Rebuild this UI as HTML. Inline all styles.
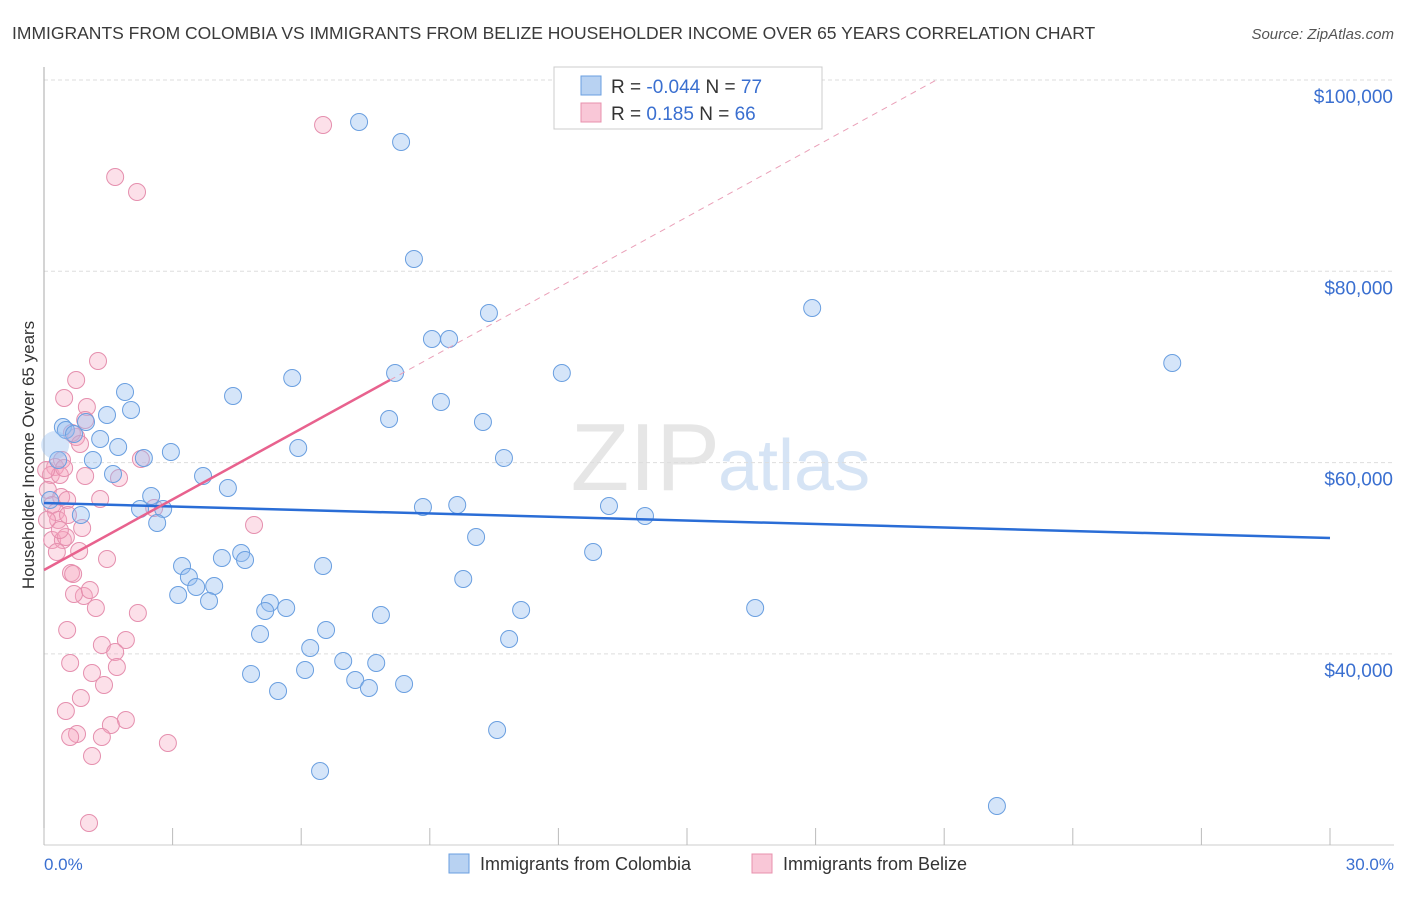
<!DOCTYPE html>
<html><head><meta charset="utf-8"><style>
body{margin:0;background:#fff;font-family:"Liberation Sans",sans-serif;}
svg text{font-family:"Liberation Sans",sans-serif;}
</style></head><body>
<svg id="chart" width="1406" height="892" xmlns="http://www.w3.org/2000/svg">
<text x="12" y="39" font-size="17.5" fill="#3a3a3a">IMMIGRANTS FROM COLOMBIA VS IMMIGRANTS FROM BELIZE HOUSEHOLDER INCOME OVER 65 YEARS CORRELATION CHART</text>
<text x="1394" y="39" font-size="15" fill="#555" text-anchor="end" font-style="italic">Source: ZipAtlas.com</text>
<text x="720" y="490" font-size="96" fill="#e6e6e6" text-anchor="end" font-family="Liberation Serif">ZIP</text>
<text x="718" y="490" font-size="72" fill="#d6e4f5">atlas</text>
<g id="grid"></g><g id="axes"></g><g id="pts"></g><g id="trend"></g>
<text transform="translate(34,455) rotate(-90)" font-size="17" fill="#333" text-anchor="middle">Householder Income Over 65 years</text>
<text x="44" y="870" font-size="17" fill="#3a6fd0">0.0%</text>
<text x="1394" y="870" font-size="17" fill="#3a6fd0" text-anchor="end">30.0%</text>
<g>
<rect x="554" y="67" width="268" height="62" fill="#fff" stroke="#ccc"/>
<rect x="581" y="76" width="20" height="19" fill="#b8d2f2" stroke="#6a9fe0"/>
<rect x="581" y="103" width="20" height="19" fill="#f9c7d7" stroke="#e890ad"/>
<text x="611" y="93" font-size="19" fill="#333">R = <tspan fill="#3a6fd0">-0.044</tspan>   N = <tspan fill="#3a6fd0">77</tspan></text>
<text x="611" y="120" font-size="19" fill="#333">R =    <tspan fill="#3a6fd0">0.185</tspan>   N = <tspan fill="#3a6fd0">66</tspan></text>
</g>
<g>
<rect x="449" y="854" width="20" height="19" fill="#b8d2f2" stroke="#6a9fe0"/>
<text x="480" y="870" font-size="18" fill="#333">Immigrants from Colombia</text>
<rect x="752" y="854" width="20" height="19" fill="#f9c7d7" stroke="#e890ad"/>
<text x="783" y="870" font-size="18" fill="#333">Immigrants from Belize</text>
</g>
</svg>
<script>
const yTicks=[100000,80000,60000,40000];
const yTickLabels=["$100,000","$80,000","$60,000","$40,000"];
const xTicks=[0,3,6,9,12,15,18,21,24,27,30];
const colX=[7.35,8.33,8.63,10.38,17.92,9.05,9.45,26.32,5.79,8.19,12.08,1.89,4.41,9.26,2.03,1.47,8.05,10.24,0.98,0.44,0.51,0.70,1.31,1.73,5.93,2.96,2.33,10.73,1.14,1.61,3.71,4.29,2.50,8.84,9.64,13.18,2.24,2.78,14.02,0.86,2.64,10.08,4.60,4.15,4.69,12.81,3.22,6.51,3.38,3.55,3.97,3.13,3.85,9.78,5.27,5.65,5.16,11.13,16.59,7.86,6.58,5.04,6.21,10.85,6.98,7.75,4.83,6.09,7.26,7.58,8.40,5.46,10.57,6.44,22.23,0.33,0.14];
const colY=[95610,93518,81285,75640,76163,72921,72921,70412,68844,69367,69367,67380,66962,66335,65500,64976,64558,64244,64244,63722,63408,62990,62467,61630,61526,61108,60481,60481,60272,58808,58599,57345,56509,55358,55567,55463,55149,55149,54417,54521,53685,52221,50548,50025,49816,50652,49189,49189,48039,46994,47098,46157,45530,47830,45320,44798,44484,44589,44798,44066,42498,42079,40616,41557,39256,39047,37897,38315,37270,36434,36852,36120,32043,27756,24097,60272,56091];
const belX=[6.51,1.66,2.17,1.26,0.75,0.47,1.00,0.96,0.75,0.65,0.84,0.42,0.26,0.16,0.37,1.75,0.96,0.47,0.09,0.40,0.54,1.31,0.19,0.28,0.33,0.56,0.89,0.19,0.44,2.57,4.90,0.51,2.26,0.82,1.47,0.63,0.68,0.93,0.70,1.07,1.21,2.19,0.54,1.91,1.35,1.66,0.61,1.70,1.12,1.40,0.86,0.51,1.91,1.56,0.77,0.61,1.35,2.89,1.12,1.05,0.07,0.30,0.37,0.05];
const belY=[95295,89859,88290,70621,68635,66753,65812,64453,62676,63094,61944,60272,59540,58704,58704,58390,58599,59435,57135,56404,56091,56195,55567,54835,54000,54521,53162,51907,51907,55254,53476,52221,60376,50757,49920,48457,48352,46052,46261,46680,44798,44275,42498,41452,40930,40198,39047,38629,38001,36747,35388,34029,33088,32565,31624,31310,31310,30683,29324,22319,54000,50652,52953,59226];
const colTrend=[55775,52116];
const belTrend=[48770,2461];
const NS="http://www.w3.org/2000/svg";
function sx(p){return 44+p/30*1286;}
function sy(v){return 80+(100000-v)/20000*191.3;}
function mk(tag,attrs,parent){const e=document.createElementNS(NS,tag);for(const k in attrs)e.setAttribute(k,attrs[k]);document.getElementById(parent).appendChild(e);return e;}
yTicks.forEach((v,i)=>{
 const l=mk('line',{x1:44,x2:1394,y1:sy(v),y2:sy(v),stroke:'#ddd','stroke-dasharray':'4,3'},'grid');
 
 
 const t=mk('text',{x:1393,y:sy(v)+23,'font-size':19,fill:'#3a6fd0','text-anchor':'end'},'grid');
 t.textContent=yTickLabels[i];
 
 
});
const ax=mk('line',{x1:44,x2:44,y1:67,y2:845,stroke:'#aaa'},'axes');


const bx=mk('line',{x1:44,x2:1394,y1:845,y2:845,stroke:'#ccc'},'axes');


xTicks.forEach(p=>{
 const t=mk('line',{x1:sx(p),x2:sx(p),y1:828,y2:845,stroke:'#bbb'},'axes');
 
 
});
belX.forEach((p,i)=>{
 const c=mk('circle',{cx:sx(p),cy:sy(belY[i]),r:8.5,fill:'rgba(245,165,192,0.35)',stroke:'#e58fae','stroke-width':1},'pts');
 
 
});
colX.forEach((p,i)=>{
 const c=mk('circle',{cx:sx(p),cy:sy(colY[i]),r:8.5,fill:'rgba(150,190,240,0.4)',stroke:'#6a9fe0','stroke-width':1},'pts');
 
 
});
const big=mk('circle',{cx:sx(0.26),cy:sy(61838),r:14,fill:'rgba(150,190,240,0.4)',stroke:'none'},'pts');


const bl=mk('line',{x1:sx(0),y1:sy(colTrend[0]),x2:sx(30),y2:sy(colTrend[1]),stroke:'#2a6dd6','stroke-width':2.5},'trend');


const pEnd=8.07, pMax=(100000-belTrend[0])/belTrend[1];
const ps=mk('line',{x1:sx(0),y1:sy(belTrend[0]),x2:sx(pEnd),y2:sy(belTrend[0]+belTrend[1]*pEnd),stroke:'#e8628e','stroke-width':2.5},'trend');


const pd=mk('line',{x1:sx(pEnd),y1:sy(belTrend[0]+belTrend[1]*pEnd),x2:sx(pMax),y2:sy(100000),stroke:'#eaa0b8','stroke-width':1,'stroke-dasharray':'6,5'},'trend');


</script>
</body></html>
